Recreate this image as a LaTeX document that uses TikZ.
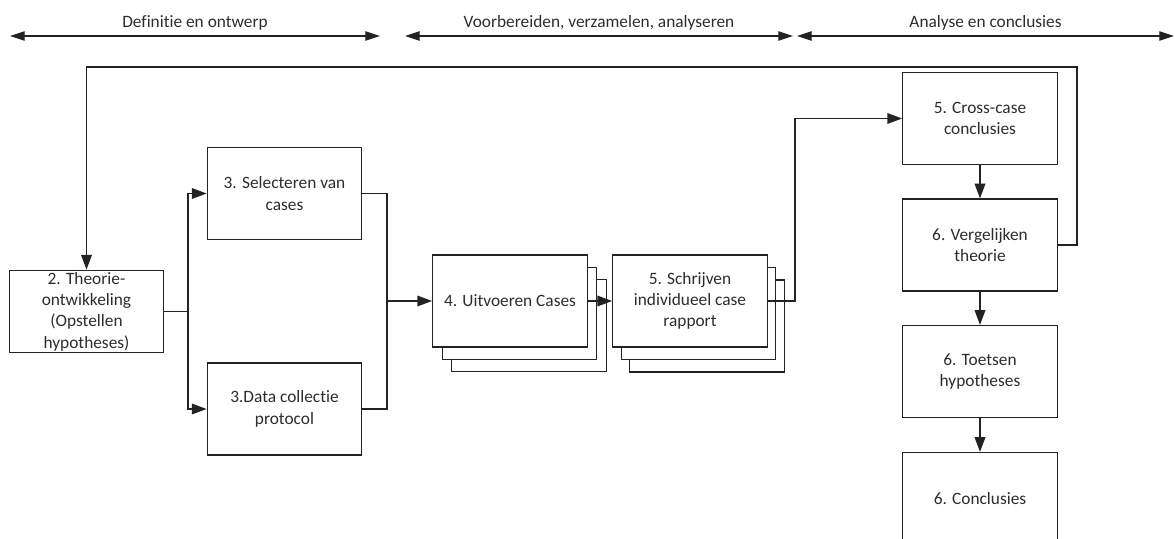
\documentclass[tikz,border=0pt]{standalone}
\usepackage{fontspec}
\setmainfont{Carlito}[Ligatures=NoCommon]
\usetikzlibrary{arrows.meta}
\definecolor{ink}{RGB}{35,35,35}
\definecolor{txt}{RGB}{45,45,45}
\begin{document}
\begin{tikzpicture}[x=0.75pt,y=-0.75pt,
  every node/.style={font=\fontsize{13}{16}\selectfont, text=txt},
  box/.style={draw=ink, line width=0.9pt, fill=white, minimum width=116pt,
    minimum height=69pt, align=center, inner sep=1pt},
  line/.style={draw=ink, line width=0.9pt},
  arr/.style={line, -{Triangle[length=11pt,width=8pt]}},
  span/.style={line, {Triangle[length=11pt,width=7pt]}-{Triangle[length=11pt,width=7pt]}},
  phase/.style={above=3pt, inner sep=1pt},
]
\clip (0,0) rectangle (1175,539);

% phase bars along the top
\coordinate (p1a) at (10,36);   \coordinate (p1b) at (380,36);
\coordinate (p2a) at (405,36);  \coordinate (p2b) at (793,36);
\coordinate (p3a) at (797,36);  \coordinate (p3b) at (1174,36);
\draw[span] (p1a) -- node[phase] (ph1) {Definitie en ontwerp} (p1b);
\draw[span] (p2a) -- node[phase] (ph2) {Voorbereiden, verzamelen, analyseren} (p2b);
\draw[span] (p3a) -- node[phase] (ph3) {Analyse en conclusies} (p3b);

% definition and design
\node[box, minimum height=62pt] (b2) at (86.5,311.5)
  {2. Theorie-\\ontwikkeling\\(Opstellen\\hypotheses)};
\node[box] (b3a) at (284.5,193.5) {3. Selecteren van\\cases};
\node[box] (b3b) at (284.5,409) {3.Data collectie\\protocol};

% stacked case boxes
\node[box] (b4c) at (529,325.6) {};
\node[box] (b4b) at (519.5,313.3) {};
\node[box] (b4)  at (510,301) {4. Uitvoeren Cases};
\node[box] (b5c) at (707,326) {};
\node[box] (b5b) at (698.5,313.5) {};
\node[box] (b5)  at (690,301) {5. Schrijven\\individueel case\\rapport};

% analysis and conclusions
\node[box] (cc) at (980,118.5) {5. Cross-case\\conclusies};
\node[box] (vg) at (980,245) {6. Vergelijken\\theorie};
\node[box] (ts) at (980,371.5) {6. Toetsen\\hypotheses};
\node[box] (cl) at (980,498.5) {6. Conclusies};

% connectors
\coordinate (j1) at (188,311.5);
\coordinate (j2) at (387,301);
\coordinate (j3) at (795,301);
\coordinate (fb) at (1077,67);

\draw[line] (b2.east) -- (j1);
\draw[arr] (j1) |- (b3a.west);
\draw[arr] (j1) |- (b3b.west);
\draw[line] (b3a.east) -| (j2);
\draw[line] (b3b.east) -| (j2);
\draw[arr] (j2) -- (b4.west);
\draw[arr] (b4.east) -- (b5.west);
\draw[arr] (b5.east) -- (j3) |- (cc.west);
\draw[arr] (cc.south) -- (vg.north);
\draw[arr] (vg.south) -- (ts.north);
\draw[arr] (ts.south) -- (cl.north);
\draw[arr] (vg.east) -| (fb) -| (b2.north);
\end{tikzpicture}
\end{document}
